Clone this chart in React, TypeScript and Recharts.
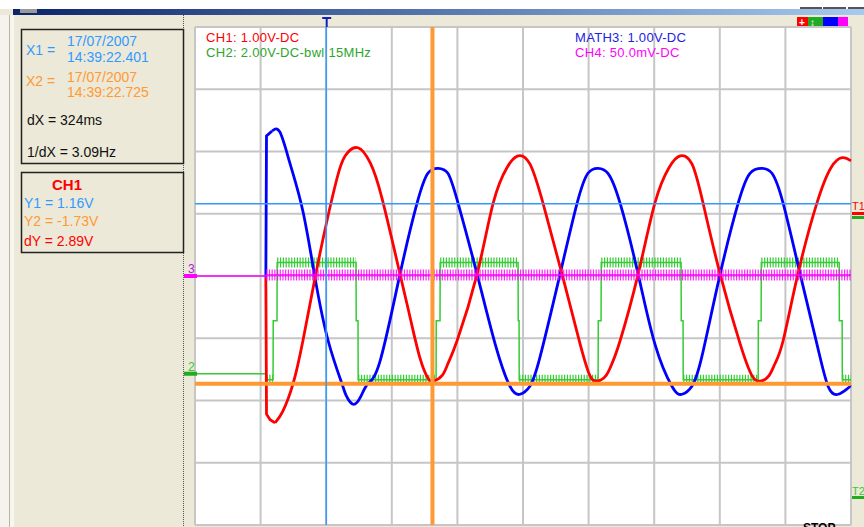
import React from "react";
import {
  LineChart,
  Line,
  XAxis,
  YAxis,
  CartesianGrid,
  ReferenceLine,
  ReferenceDot,
} from "recharts";

// ============================================
// Data (time in ms from the left screen edge, 200 ms/div)
// ============================================

const timeTicks = [0, 200, 400, 600, 800, 1000, 1200, 1400, 1600, 1800, 2000];
const divTicks = [-4, -3, -2, -1, 0, 1, 2, 3, 4];

// CH1 : volts (1.00 V/div, ground on the centre line)
// switch-on edge, then the running wave
const ch1Edge: [number, number][] = [
  [216, -0.03], [218, -2.22], [229, -2.31], [244, -2.36],
];
const ch1Trace: [number, number][] = [
  [244, -2.36], [268, -2.17], [299, -1.73],
  [329, -1.04], [366, -0.03], [402, 0.88], [433, 1.57], [458, 1.93], [497, 2.06],
  [534, 1.82], [570, 1.25], [625, 0.03], [656, -0.67], [686, -1.32],
  [710, -1.64], [726, -1.69], [753, -1.6], [771, -1.41], [799, -1.04], [860, 0.03],
  [909, 1.17], [951, 1.74], [985, 1.93], [1021, 1.8], [1061, 1.17], [1119, 0.03],
  [1174, -1.09], [1204, -1.6], [1226, -1.69], [1253, -1.6], [1271, -1.41], [1296, -1.04],
  [1351, 0.03], [1402, 1.17], [1445, 1.74], [1479, 1.93], [1515, 1.8], [1549, 1.17],
  [1601, 0.03], [1662, -1.09], [1698, -1.6], [1723, -1.69], [1750, -1.6], [1768, -1.41],
  [1793, -1.04], [1838, 0.03], [1896, 1.17], [1939, 1.74], [1973, 1.9], [2000, 1.85],
];

// MATH3 : volts (1.00 V/div)
const math3Edge: [number, number][] = [
  [216, -0.03], [218, 2.25], [235, 2.33],
];
const math3Trace: [number, number][] = [
  [235, 2.33], [259, 2.31], [290, 1.8], [329, 1.04],
  [366, -0.03], [406, -1.04], [448, -1.73], [460, -1.91], [482, -2.06], [506, -1.93],
  [527, -1.73], [564, -1.37], [625, 0.03], [677, 1.17], [710, 1.65], [741, 1.73],
  [771, 1.65], [802, 1.17], [860, 0.03], [915, -1.09], [960, -1.77], [991, -1.9],
  [1021, -1.77], [1052, -1.3], [1113, 0.03], [1165, 1.17], [1198, 1.65], [1229, 1.73],
  [1259, 1.65], [1296, 1.17], [1351, 0.03], [1402, -1.09], [1454, -1.77], [1485, -1.9],
  [1515, -1.77], [1546, -1.28], [1601, 0.03], [1656, 1.17], [1692, 1.65], [1729, 1.73],
  [1759, 1.65], [1793, 1.17], [1845, 0.03], [1896, -1.09], [1930, -1.77], [1961, -1.9],
  [1991, -1.8], [2000, -1.78],
];

// CH2 : volts (2.00 V/div, ground marker 1.57 div below centre)
const ch2Trace: [number, number][] = [
  [0, 0], [216, 0], [218, -0.19], [238, -0.19], [238.5, 1.7], [250, 1.7], [250.5, 3.57],
  [491, 3.57], [491.5, 1.7], [497, 1.7], [497.5, -0.19],
  [735, -0.19], [735.5, 1.7], [747, 1.7], [747.5, 3.57],
  [985, 3.57], [985.5, 1.7], [988, 1.7], [988.5, -0.19],
  [1229, -0.19], [1229.5, 1.7], [1238, 1.7], [1238.5, 3.57],
  [1482, 3.57], [1482.5, 1.7], [1488, 1.7], [1488.5, -0.19],
  [1717, -0.19], [1717.5, 1.7], [1726, 1.7], [1726.5, 3.57],
  [1964, 3.57], [1964.5, 1.7], [1973, 1.7], [1973.5, -0.19], [2000, -0.19],
];

// CH4 : millivolts (50.0 mV/div)
const ch4Trace: [number, number][] = [
  [0, 0], [216, 0], [217, 0.8], [2000, 0.8],
];

// cursors
const cursorX = [400, 724]; // X1, X2 (ms)
const cursorY = [1.16, -1.73]; // Y1, Y2 (CH1 volts)

// ============================================
// Colors
// ============================================

const colors = {
  panel: "#ECE9D8",
  grid: "#C6C6C6",
  ch1: "#FF0000",
  ch2: "#33CC33",
  ch2Text: "#2EA52E",
  math3: "#0000FF",
  math3Text: "#2222E0",
  ch4: "#FF00FF",
  cursor1: "#3399FF",
  cursor2: "#FF9933",
  text: "#111111",
};

const FONT = "'Liberation Sans', Arial, sans-serif";

const channels = {
  ch1: { vdiv: 1, gnd: 0 },
  math3: { vdiv: 1, gnd: 0 },
  ch2: { vdiv: 2, gnd: -1.57 },
  ch4: { vdiv: 50, gnd: 0 },
};

const toDiv = (trace: [number, number][], ch: { vdiv: number; gnd: number }) =>
  trace.map(([t, v]) => ({ t, y: ch.gnd + v / ch.vdiv }));

// flat stretches after the start get a ripple band
const rippleOf = (trace: [number, number][], ch: { vdiv: number; gnd: number }) => {
  const rows: { t: number; y: number | null }[] = [];
  for (let i = 0; i < trace.length - 1; i++) {
    const [t0, v0] = trace[i];
    const [t1, v1] = trace[i + 1];
    if (v0 === v1 && v0 !== 0 && t1 - t0 > 15) {
      const y = ch.gnd + v0 / ch.vdiv;
      rows.push({ t: t0, y }, { t: t1, y }, { t: t1, y: null });
    }
  }
  return rows;
};

const ch1EdgeData = toDiv(ch1Edge, channels.ch1);
const ch1Data = toDiv(ch1Trace, channels.ch1);
const math3EdgeData = toDiv(math3Edge, channels.math3);
const math3Data = toDiv(math3Trace, channels.math3);
const ch2Data = toDiv(ch2Trace, channels.ch2);
const ch4Data = toDiv(ch4Trace, channels.ch4);
const ch2Ripple = rippleOf(ch2Trace, channels.ch2);
const ch4Ripple = rippleOf(ch4Trace, channels.ch4);

// ============================================
// Small markers
// ============================================

const CursorTag = (props: any) => {
  const vb = props.viewBox;
  if (!vb) return null;
  return (
    <g fill="#1020C0">
      <rect x={vb.x - 4} y={vb.y - 10} width={9} height={2} />
      <rect x={vb.x - 0.5} y={vb.y - 10} width={2} height={10} />
    </g>
  );
};

const groundMarker = (label: string, bar: string, text: string) => (props: any) => {
  const { cx, cy } = props;
  if (cx == null || cy == null) return <g />;
  return (
    <g>
      <rect x={cx - 12} y={cy - 2} width={14} height={4} fill={bar} />
      <text x={cx - 7} y={cy - 3} fontSize={12} fontFamily={FONT} fill={text}>
        {label}
      </text>
    </g>
  );
};

const lineProps = { dot: false, activeDot: false, isAnimationActive: false } as const;

// ============================================
// Component
// ============================================

export default function App() {
  return (
    <div
      style={{
        position: "absolute",
        left: 0,
        top: 0,
        width: 864,
        height: 527,
        overflow: "hidden",
        background: colors.panel,
        fontFamily: FONT,
      }}
    >
      {/* window frame & left readout panel */}
      <svg width={864} height={527} style={{ position: "absolute", left: 0, top: 0 }}>
        <defs>
          <linearGradient id="title" x1="0" x2="1" y1="0" y2="0">
            <stop offset="0" stopColor="#0A246A" />
            <stop offset="1" stopColor="#A6CAF0" />
          </linearGradient>
        </defs>
        <rect x={0} y={0} width={864} height={9} fill="#fff" />
        <rect x={13} y={9} width={851} height={6} fill="url(#title)" />
        <rect x={20} y={9} width={17} height={4} fill="#9a9a9a" />
        <rect x={800} y={7} width={22} height={2} fill="#555" />
        <rect x={823} y={7} width={23} height={2} fill="#555" />
        <rect x={848} y={7} width={16} height={2} fill="#555" />
        <rect x={0} y={15} width={9} height={512} fill="#F4F3EE" />
        <rect x={9} y={15} width={1} height={512} fill="#B8B4A6" />
        <rect x={10} y={15} width={4} height={512} fill="#F7F6F0" />
        <line x1={183.5} y1={15} x2={183.5} y2={527} stroke="#555" strokeDasharray="1 1" />

        {/* channel colour chips */}
        <rect x={797} y={17} width={11} height={10} fill="#FF0000" />
        <rect x={808} y={17} width={15} height={10} fill="#22AA22" />
        <rect x={823} y={17} width={15} height={10} fill="#0000FF" />
        <rect x={838} y={17} width={10} height={10} fill="#FF00FF" />
        <text x={799} y={26} fontSize={10} fill="#fff" fontFamily={FONT} fontWeight="bold">+</text>
        <text x={810} y={26} fontSize={10} fill="#fff" fontFamily={FONT} fontWeight="bold">↕</text>

        {/* cursor readout box */}
        <rect x={21.5} y={29.5} width={162} height={134} fill="none" stroke="#222" strokeWidth={1.5} />
        <g fontFamily={FONT} fontSize={14}>
          <text x={26} y={55} fill={colors.cursor1}>X1 =</text>
          <text x={67} y={46} fill={colors.cursor1}>17/07/2007</text>
          <text x={67} y={62} fill={colors.cursor1}>14:39:22.401</text>
          <text x={26} y={86} fill={colors.cursor2}>X2 =</text>
          <text x={67} y={82} fill={colors.cursor2}>17/07/2007</text>
          <text x={67} y={97} fill={colors.cursor2}>14:39:22.725</text>
          <text x={27} y={125} fill={colors.text}>dX = 324ms</text>
          <text x={27} y={157} fill={colors.text}>1/dX = 3.09Hz</text>
        </g>

        <rect x={21.5} y={172.5} width={162} height={80} fill="none" stroke="#222" strokeWidth={1.5} />
        <g fontFamily={FONT} fontSize={14}>
          <text x={52} y={190} fill={colors.ch1} fontWeight="bold" fontSize={15}>CH1</text>
          <text x={24} y={208} fill={colors.cursor1}>Y1 = 1.16V</text>
          <text x={24} y={226} fill={colors.cursor2}>Y2 = -1.73V</text>
          <text x={24} y={246} fill={colors.ch1}>dY = 2.89V</text>
        </g>
      </svg>

      {/* scope screen */}
      <div style={{ position: "absolute", left: 184, top: 15 }}>
        <LineChart width={680} height={512} margin={{ top: 12, right: 13, bottom: 2, left: 11 }}>
          <CartesianGrid stroke={colors.grid} strokeWidth={2} fill="#fff" />
          <XAxis type="number" dataKey="t" domain={[0, 2000]} ticks={timeTicks} hide />
          <YAxis type="number" domain={[-4, 4]} ticks={divTicks} hide />

          <Line data={ch2Ripple} dataKey="y" stroke={colors.ch2} strokeWidth={10}
            strokeDasharray="1.2 1.6" {...lineProps} />
          <Line data={ch2Data} dataKey="y" type="linear" stroke={colors.ch2} strokeWidth={1.5} {...lineProps} />
          <Line data={math3EdgeData} dataKey="y" type="linear" stroke={colors.math3} strokeWidth={2.8} {...lineProps} />
          <Line data={math3Data} dataKey="y" type="natural" stroke={colors.math3} strokeWidth={2.8} {...lineProps} />
          <Line data={ch1EdgeData} dataKey="y" type="linear" stroke={colors.ch1} strokeWidth={2.8} {...lineProps} />
          <Line data={ch1Data} dataKey="y" type="natural" stroke={colors.ch1} strokeWidth={2.8} {...lineProps} />
          <Line data={ch4Ripple} dataKey="y" stroke={colors.ch4} strokeWidth={11}
            strokeDasharray="1.2 1.5" strokeOpacity={0.85} {...lineProps} />
          <Line data={ch4Data} dataKey="y" type="linear" stroke={colors.ch4} strokeWidth={1.5} {...lineProps} />

          <ReferenceLine y={cursorY[0]} stroke={colors.cursor1} strokeWidth={1.5} />
          <ReferenceLine y={cursorY[1]} stroke={colors.cursor2} strokeWidth={4} />
          <ReferenceLine x={cursorX[0]} stroke={colors.cursor1} strokeWidth={1.5} label={<CursorTag />} />
          <ReferenceLine x={cursorX[1]} stroke={colors.cursor2} strokeWidth={4} />

          <ReferenceDot x={0} y={channels.ch4.gnd} ifOverflow="visible"
            shape={groundMarker("3", colors.ch4, "#B020E0")} />
          <ReferenceDot x={0} y={channels.ch2.gnd} ifOverflow="visible"
            shape={groundMarker("2", "#22AA22", colors.ch2)} />
        </LineChart>
      </div>

      {/* channel settings text & right-hand markers */}
      <svg width={864} height={527} style={{ position: "absolute", left: 0, top: 0, pointerEvents: "none" }}>
        <g fontFamily={FONT} fontSize={13} letterSpacing={0.3}>
          <text x={206} y={42} fill={colors.ch1}>CH1: 1.00V-DC</text>
          <text x={206} y={57} fill={colors.ch2Text}>CH2: 2.00V-DC-bwl 15MHz</text>
          <text x={575} y={42} fill={colors.math3Text}>MATH3: 1.00V-DC</text>
          <text x={575} y={57} fill={colors.ch4}>CH4: 50.0mV-DC</text>
        </g>
        <text x={852} y={210} fontSize={11} fontFamily={FONT} fill={colors.ch1}>T1</text>
        <rect x={852} y={212} width={12} height={3} fill={colors.ch1} />
        <rect x={852} y={216} width={12} height={3} fill="#22AA22" />
        <text x={852} y={495} fontSize={11} fontFamily={FONT} fill={colors.ch2}>T2</text>
        <rect x={852} y={496} width={12} height={3} fill="#22AA22" />
        <text x={803} y={532} fontSize={12} fontWeight="bold" fontFamily={FONT} fill="#000">STOP</text>
      </svg>
    </div>
  );
}
